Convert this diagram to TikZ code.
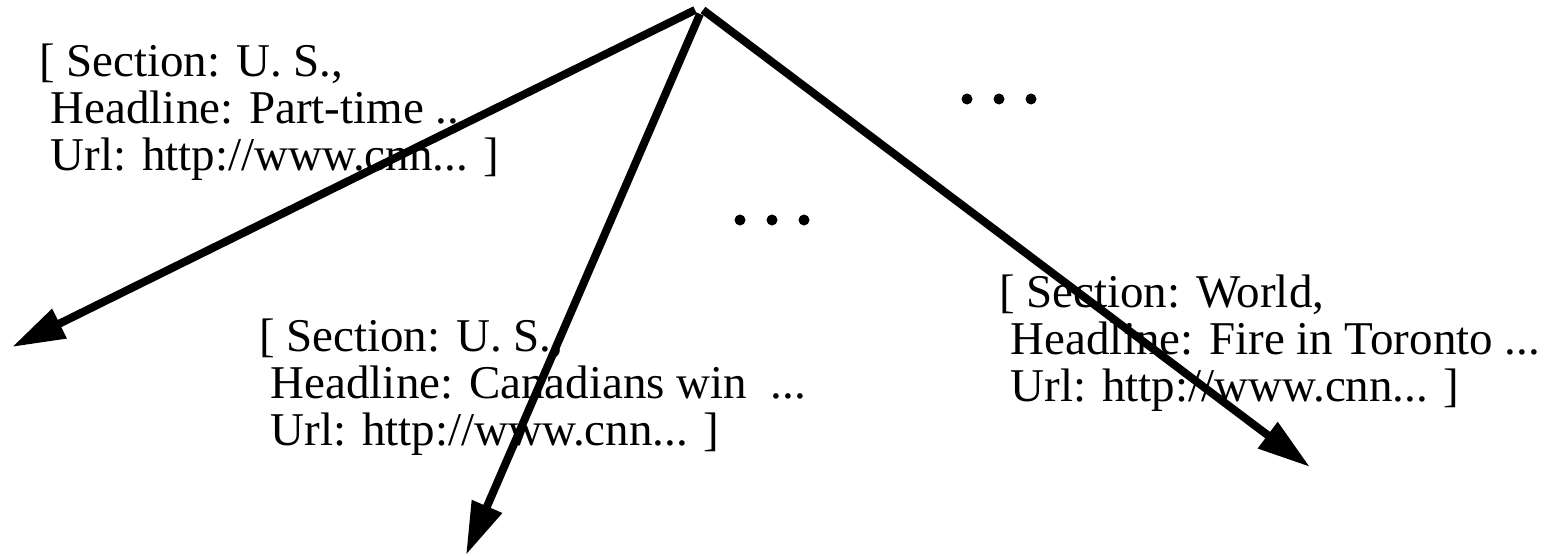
\documentclass[tikz,border=0pt]{standalone}
\usepackage{fontspec}
\setmainfont{Liberation Serif}
\usetikzlibrary{arrows.meta}
\tikzset{
  blk/.style={inner sep=0pt, outer sep=0pt, anchor=base west, font=\fontsize{47}{47}\selectfont},
  link/.style={line width=8pt, -{Triangle[length=53pt,width=31pt]}},
  dotmark/.style={circle, fill=black, inner sep=0pt, minimum size=11pt}
}
\newcommand{\blocktext}[3]{\vtop{\baselineskip=47pt\hbox{#1}\hbox{\ #2}\hbox{\ #3}}}
\begin{document}
\begin{tikzpicture}[x=1pt,y=-1pt]
\useasboundingbox (0,0) rectangle (1557,555);
% text blocks
\node[blk] (b1) at (39,76) {\blocktext{[ Section: U. S.,}{Headline: Part-time ..}{Url: http://www.cnn... ]}};
\node[blk] (b2) at (259,351) {\blocktext{[ Section: U. S.,}{Headline: Canadians win\ \ ...}{Url: http://www.cnn... ]}};
\node[blk] (b3) at (999,307) {\blocktext{[ Section: World,}{Headline: Fire in Toronto ...}{Url: http://www.cnn... ]}};
% dots
\node[dotmark] (d1) at (967,99) {};
\node[dotmark] (d2) at (999,99) {};
\node[dotmark] (d3) at (1031,99) {};
\node[dotmark] (e1) at (740,220) {};
\node[dotmark] (e2) at (772,220) {};
\node[dotmark] (e3) at (804,220) {};
% apex and arrow ends
\coordinate (aL) at (695,10);
\coordinate (aM) at (700,14);
\coordinate (aR) at (703,10);
\coordinate (tL) at (12,347);
\coordinate (tM) at (466,555);
\coordinate (tR) at (1310,467);
\draw[link] (aL) -- (tL);
\draw[link] (aM) -- (tM);
\draw[link] (aR) -- (tR);
\end{tikzpicture}
\end{document}
